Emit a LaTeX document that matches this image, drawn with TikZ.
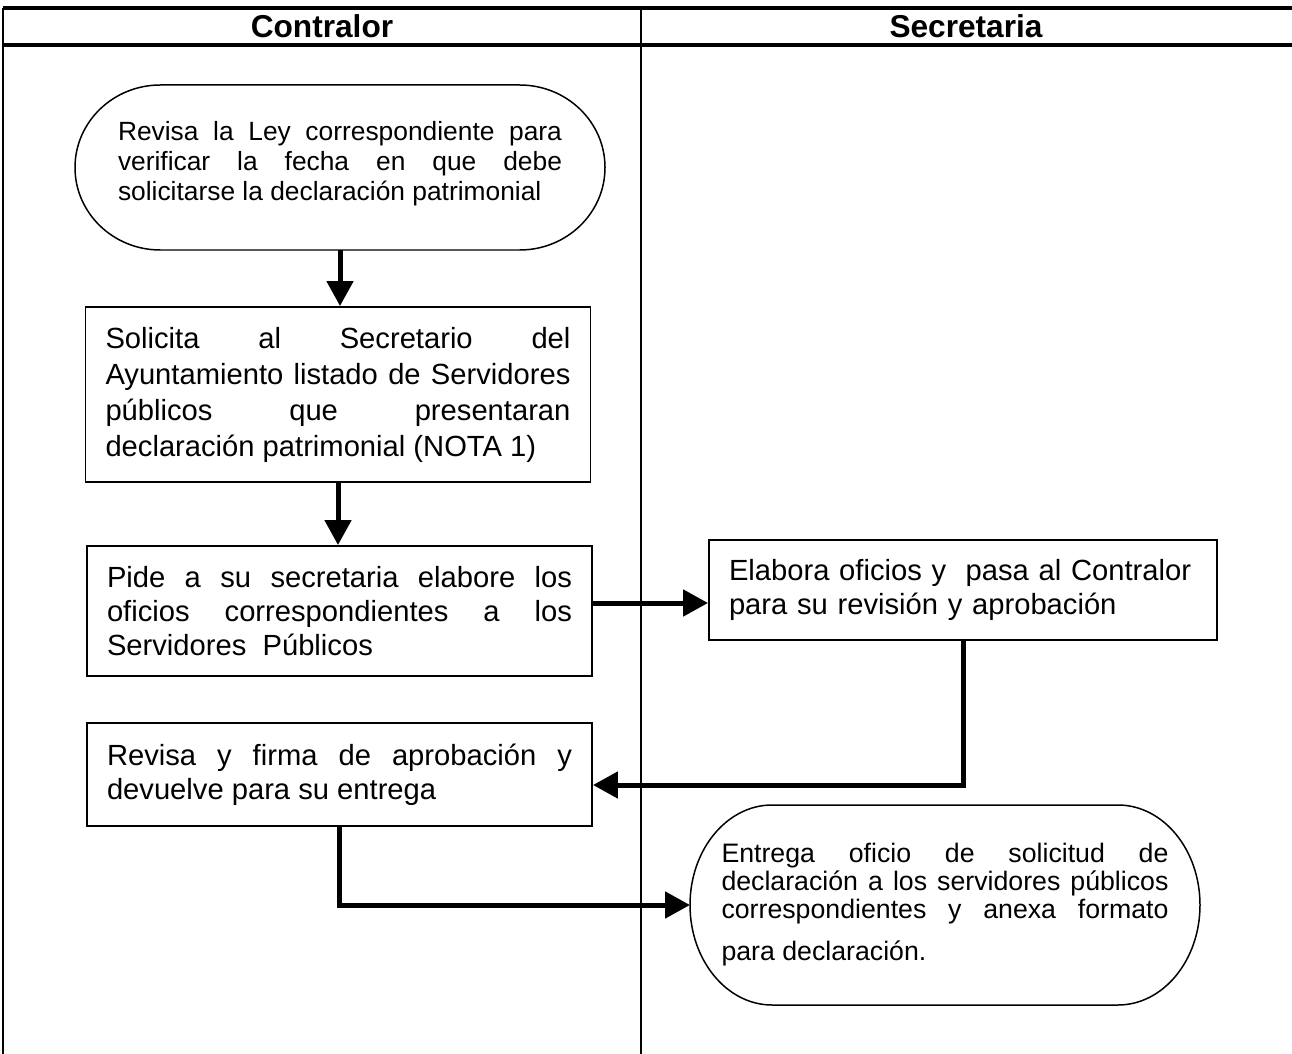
\documentclass[tikz,border=0pt]{standalone}
\usepackage{fontspec}
\setmainfont{Liberation Sans}
\usetikzlibrary{arrows.meta,calc}
\tolerance=10000
\hyphenpenalty=10000
\hbadness=10000

% outline of a terminal box around a named node
\newcommand\termoutline[1]{%
  \draw[terminal line] let \p1=(#1.north west), \p2=(#1.south east),
    \n1={0.161*(\x2-\x1)}, \n2={0.5*(\y1-\y2)} in
    (\x1+\n1,\y1) -- (\x2-\n1,\y1)
    arc[start angle=90, end angle=-90, x radius=\n1, y radius=\n2]
    -- (\x1+\n1,\y2)
    arc[start angle=270, end angle=90, x radius=\n1, y radius=\n2] -- cycle;}

\begin{document}
\begin{tikzpicture}[
    lane line/.style={line width=0.8pt},
    head line/.style={line width=1.8pt},
    title/.style={font=\fontsize{18}{21}\selectfont\bfseries},
    process/.style={draw, line width=1.1pt, inner xsep=0.4cm, inner ysep=0pt,
        text width=9.3cm, align=justify, font=\fontsize{16.6}{19.2}\selectfont},
    terminal/.style={inner sep=0pt, outer sep=0pt, align=justify},
    terminal line/.style={line width=0.85pt},
    flow/.style={line width=0.1cm, -{Triangle[length=0.5cm,width=0.52cm]}}
    ]
    \useasboundingbox (0,0) rectangle (25.84,-21.08);
    % lanes
    \draw[head line] (0.06,-0.16) -- (25.84,-0.16);
    \draw[head line] (0.06,-0.90) -- (25.84,-0.90);
    \draw[lane line] (0.06,-0.16) -- (0.06,-21.08);
    \draw[lane line] (12.82,-0.16) -- (12.82,-21.08);
    \node[title] (hcon) at (6.44,-0.53) {Contralor};
    \node[title] (hsec) at (19.32,-0.53) {Secretaria};
    % steps
    \node[terminal, minimum width=10.6cm, minimum height=3.3cm, text width=8.88cm,
        font=\fontsize{15}{17}\selectfont] (revisa) at (6.8,-3.35)
        {Revisa la Ley correspondiente para\linebreak verificar la fecha en que debe\linebreak solicitarse la declaración patrimonial\rule[-0.27cm]{0pt}{0.1pt}};
    \termoutline{revisa}
    \node[process, minimum height=3.5cm, font=\fontsize{16.6}{20.5}\selectfont] (solicita) at (6.76,-7.89)
        {Solicita al Secretario del\linebreak Ayuntamiento listado de Servidores\linebreak públicos que presentaran\linebreak declaración patrimonial (NOTA 1)};
    \node[process, minimum height=2.6cm] (pide) at (6.79,-12.22)
        {Pide a su secretaria elabore los\linebreak oficios correspondientes a los\linebreak Servidores\ \ Públicos};
    \node[process, minimum height=2.0cm, align=left, text width=9.36cm] (elabora) at (19.26,-11.8)
        {Elabora oficios y\ \ pasa al Contralor\\ para su revisión y aprobación};
    \node[process, minimum height=2.06cm] (firma) at (6.79,-15.49)
        {Revisa y firma de aprobación y\linebreak devuelve para su entrega};
    \node[terminal, minimum width=10.2cm, minimum height=4.0cm, text width=8.94cm,
        font=\fontsize{15.2}{15.8}\selectfont] (entrega) at (18.9,-18.1)
        {Entrega oficio de solicitud de\linebreak declaración a los servidores públicos\linebreak correspondientes y anexa formato\linebreak \rule{0pt}{20pt}para declaración.};
    \termoutline{entrega}
    % connectors
    \draw[flow] (revisa.south) -- (revisa.south |- solicita.north);
    \draw[flow] (solicita.south) -- (solicita.south |- pide.north);
    \draw[flow] ([yshift=0.16cm]pide.east) -- ([yshift=0.16cm]pide.east -| elabora.west);
    \draw[flow] (elabora.south) |- ([yshift=-0.21cm]firma.east);
    \draw[flow] (firma.south) |- (entrega.west);
\end{tikzpicture}
\end{document}
